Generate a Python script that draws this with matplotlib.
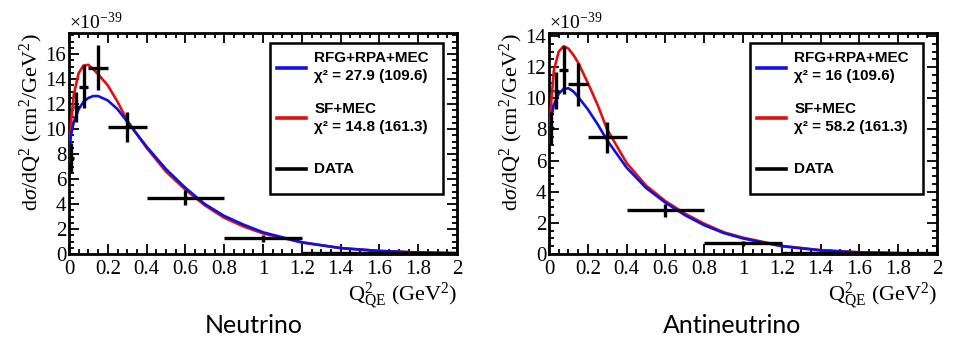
import matplotlib
matplotlib.use("Agg")
import matplotlib.pyplot as plt
from matplotlib.ticker import MultipleLocator
from matplotlib.lines import Line2D
from matplotlib.patches import Rectangle

# ---------------- data ----------------
bin_edges = [0.0, 0.025, 0.05, 0.1, 0.2, 0.4, 0.8, 1.2, 2.0]
bin_centers = [0.0125, 0.0375, 0.075, 0.15, 0.3, 0.6, 1.0, 1.6]

nu_data = [7.7, 11.8, 13.4, 14.9, 10.2, 4.5, 1.25, 0.1]
nu_err = [1.2, 1.2, 1.7, 1.8, 1.2, 0.6, 0.3, 0.05]
anu_data = [8.1, 10.5, 11.8, 10.9, 7.5, 2.8, 0.68, 0.05]
anu_err = [1.0, 1.2, 1.55, 1.4, 1.0, 0.42, 0.15, 0.03]

curve_x = [0.0, 0.01, 0.025, 0.05, 0.075, 0.1, 0.125, 0.15, 0.2, 0.25, 0.3,
           0.4, 0.5, 0.6, 0.7, 0.8, 0.9, 1.0, 1.2, 1.4, 1.6, 1.8, 2.0]
nu_rfg = [7.8, 9.5, 10.6, 11.6, 12.2, 12.5, 12.65, 12.65, 12.3, 11.6, 10.6,
          8.6, 6.8, 5.3, 4.0, 3.05, 2.35, 1.74, 0.94, 0.47, 0.24, 0.12, 0.06]
nu_sf = [7.5, 10.5, 12.8, 14.5, 15.1, 15.15, 14.8, 14.4, 13.5, 12.2, 10.7,
         8.5, 6.6, 5.15, 3.9, 2.9, 2.2, 1.65, 0.92, 0.48, 0.25, 0.12, 0.06]
anu_rfg = [7.2, 8.6, 9.6, 10.3, 10.6, 10.65, 10.45, 10.1, 9.3, 8.35, 7.3,
           5.55, 4.25, 3.3, 2.5, 1.85, 1.35, 1.0, 0.5, 0.23, 0.1, 0.05, 0.02]
anu_sf = [7.2, 9.5, 11.8, 13.0, 13.35, 13.2, 12.8, 12.3, 11.0, 9.6, 8.0,
          5.85, 4.4, 3.4, 2.6, 1.95, 1.4, 1.05, 0.52, 0.25, 0.11, 0.05, 0.02]

nu_chi = ["27.9 (109.6)", "14.8 (161.3)"]
anu_chi = ["16 (109.6)", "58.2 (161.3)"]
model_names = ["RFG+RPA+MEC", "SF+MEC", "DATA"]
panel_titles = ["Neutrino", "Antineutrino"]
xticks = [0, 0.2, 0.4, 0.6, 0.8, 1, 1.2, 1.4, 1.6, 1.8, 2]
xticklabels = ["0", "0.2", "0.4", "0.6", "0.8", "1", "1.2", "1.4", "1.6",
               "1.8", "2"]

BLUE = "#1010e0"
RED = "#e01010"
SERIF = "Liberation Serif"

plt.rcParams["font.family"] = [SERIF, "DejaVu Serif"]
plt.rcParams["mathtext.fontset"] = "custom"
plt.rcParams["mathtext.rm"] = SERIF
plt.rcParams["mathtext.it"] = SERIF + ":italic"
plt.rcParams["mathtext.bf"] = SERIF + ":bold"

fig = plt.figure(figsize=(9.56, 3.45), dpi=100)
W, H = 956.0, 345.0
axes_px = [(69, 33, 388, 221), (549, 33, 388, 221)]

panels = [
    (nu_data, nu_err, nu_rfg, nu_sf, nu_chi, 17.7, 16),
    (anu_data, anu_err, anu_rfg, anu_sf, anu_chi, 14.2, 14),
]

title_x = [254, 732]

for i, (data, err, rfg, sf, chi, ytop, ymaxtick) in enumerate(panels):
    x0, y0, w, h = axes_px[i]
    ax = fig.add_axes([x0 / W, 1 - (y0 + h) / H, w / W, h / H])
    ax.plot(curve_x, sf, color=RED, lw=1.9, zorder=3)
    ax.plot(curve_x, rfg, color=BLUE, lw=1.9, zorder=4)
    xerr_lo = [c - bin_edges[j] for j, c in enumerate(bin_centers)]
    xerr_hi = [bin_edges[j + 1] - c for j, c in enumerate(bin_centers)]
    ax.errorbar(bin_centers, data, yerr=err, xerr=[xerr_lo, xerr_hi],
                fmt="none", ecolor="black", elinewidth=2.4, capsize=0,
                zorder=5, clip_on=False)
    ax.set_xlim(0, 2)
    ax.set_ylim(0, ytop)
    yt = list(range(0, ymaxtick + 1, 2))
    ax.set_xticks(xticks)
    ax.set_xticklabels(xticklabels, fontfamily=SERIF, fontsize=15)
    ax.set_yticks(yt)
    ax.set_yticklabels([str(v) for v in yt], fontfamily=SERIF, fontsize=15)
    ax.xaxis.set_minor_locator(MultipleLocator(0.05))
    ax.yaxis.set_minor_locator(MultipleLocator(0.5))
    ax.tick_params(which="both", direction="in", top=True, right=True,
                   width=1.3)
    ax.tick_params(axis="y", pad=2)
    ax.tick_params(axis="x", pad=4)
    ax.tick_params(which="major", length=7)
    ax.tick_params(which="minor", length=3.5)
    for sp in ax.spines.values():
        sp.set_linewidth(2)
    ax.set_ylabel(r"d$\sigma$/dQ$^{2}$ (cm$^{2}$/GeV$^{2}$)", fontsize=16,
                  loc="top")
    ax.yaxis.set_label_coords(-0.062, 1.0)
    ax.set_xlabel(r"Q$^{2}_{\rm QE}$ (GeV$^{2}$)", fontsize=16, loc="right",
                  labelpad=1)
    ax.text(0.0, 1.0, r"$\times$10$^{-39}$", transform=ax.transAxes,
            fontsize=14, ha="left", va="bottom")

    # legend drawn manually
    lx0, lx1 = 0.517, 0.964
    ly0, ly1 = 0.27, 0.955
    ax.add_patch(Rectangle((lx0, ly0), lx1 - lx0, ly1 - ly0,
                           transform=ax.transAxes, fill=True, fc="white",
                           ec="black", lw=1.8, zorder=6))
    hy = [0.842, 0.615, 0.385]
    cols = [BLUE, RED, "black"]
    for k in range(3):
        ax.add_line(Line2D([0.536, 0.612], [hy[k], hy[k]], color=cols[k],
                           lw=2.6, transform=ax.transAxes, zorder=7))
    tx = 0.632
    tfont = dict(fontfamily="Liberation Sans", fontweight="bold",
                 fontsize=11, transform=ax.transAxes, ha="left",
                 va="center", zorder=8)
    ax.text(tx, 0.886, model_names[0], **tfont)
    ax.text(tx, 0.805, "χ² = " + chi[0], **tfont)
    ax.text(tx, 0.656, model_names[1], **tfont)
    ax.text(tx, 0.576, "χ² = " + chi[1], **tfont)
    ax.text(tx, 0.383, model_names[2], **tfont)

    fig.text(title_x[i] / W, (H - 333) / H, panel_titles[i], fontsize=18,
             fontfamily="Lato", ha="center", va="baseline")

fig.savefig("out.png", dpi=100)
